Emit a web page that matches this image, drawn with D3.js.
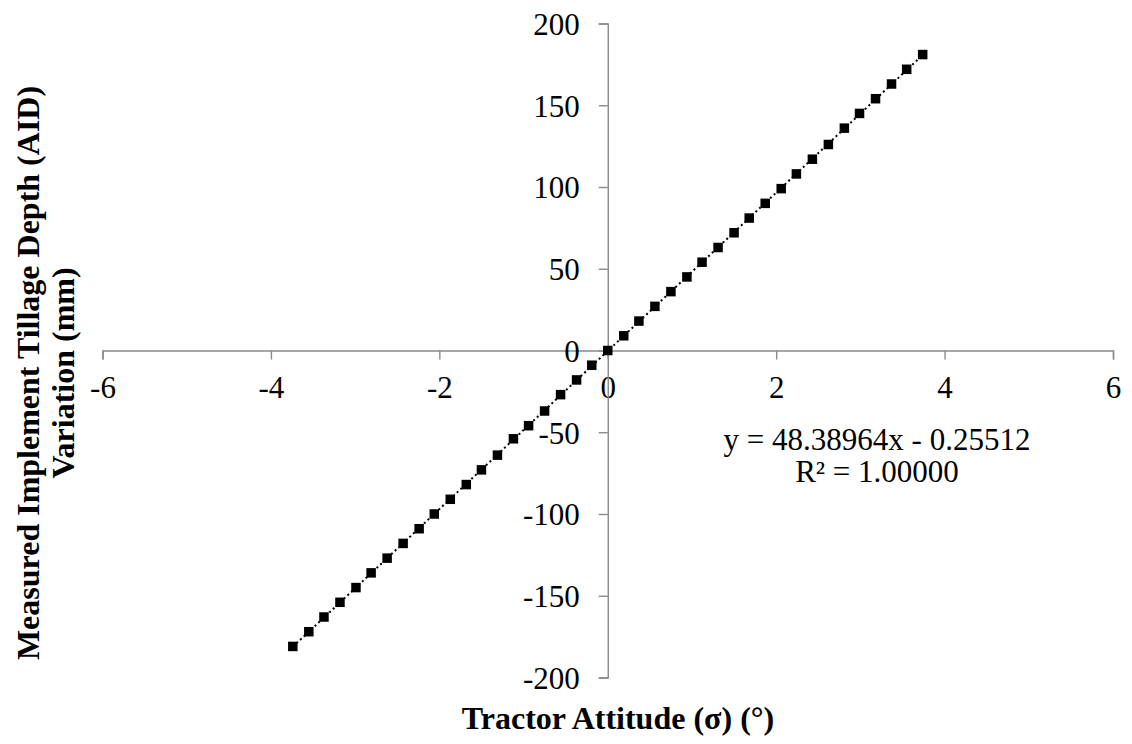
<!DOCTYPE html>
<html>
<head>
<meta charset="utf-8">
<script src="https://cdn.jsdelivr.net/npm/d3@7"></script>
<style>
  body { margin: 0; background: #fff; }
  svg { display: block; }
  text { font-family: "Liberation Serif", "Times New Roman", serif; fill: #000; }
</style>
</head>
<body>
<div id="chart"></div>
<script>
// Tractor attitude (deg) vs measured tillage depth variation (mm)
var attitude = [-3.74, -3.55, -3.37, -3.18, -2.99, -2.81, -2.62, -2.43, -2.24, -2.06,
    -1.87, -1.68, -1.50, -1.31, -1.12, -0.94, -0.75, -0.56, -0.37, -0.19, 0,
    0.19, 0.37, 0.56, 0.75, 0.94, 1.12, 1.31, 1.50, 1.68, 1.87,
    2.06, 2.24, 2.43, 2.62, 2.81, 2.99, 3.18, 3.37, 3.55, 3.74];
var depth = [-181, -172, -163, -154, -145, -136, -127, -118, -109, -100,
    -91, -82, -73, -64, -54, -46, -37, -27, -18, -9, 0,
    9, 18, 27, 36, 45, 54, 63, 72, 81, 90,
    99, 108, 117, 126, 136, 145, 154, 163, 172, 181];

var xTicks = [-6, -4, -2, 0, 2, 4, 6];
var yTicks = [-200, -150, -100, -50, 0, 50, 100, 150, 200];

var trendSlope = 48.38964, trendIntercept = -0.25512;
var equationLines = ["y = 48.38964x - 0.25512", "R\u00b2 = 1.00000"];

const width = 1132, height = 744;
const plot = { left: 102.5, right: 1113, top: 23.5, bottom: 677.5 };

var x = d3.scaleLinear().domain([-6, 6]).range([plot.left, plot.right]);
var y = d3.scaleLinear().domain([-200, 200]).range([plot.bottom, plot.top]);

var svg = d3.select("#chart").append("svg")
    .attr("width", width)
    .attr("height", height);

var axisColor = "#898989";
var fmt = function(d) { return String(d); };  // plain hyphen like Excel

// X axis through y = 0
var gx = svg.append("g")
    .attr("transform", "translate(0," + y(0) + ")")
    .call(d3.axisBottom(x).tickValues(xTicks).tickFormat(fmt).tickSize(9).tickSizeOuter(9));
gx.select(".domain").attr("stroke", axisColor).attr("stroke-width", 1.4);
gx.selectAll(".tick line").attr("stroke", axisColor).attr("stroke-width", 1.4);
gx.selectAll(".tick text")
    .attr("y", 37)
    .attr("dy", "0.35em")
    .style("font-size", "31px")
    .style("font-family", "Liberation Serif, serif");

// Y axis through x = 0
var gy = svg.append("g")
    .attr("transform", "translate(" + x(0) + ",0)")
    .call(d3.axisLeft(y).tickValues(yTicks).tickFormat(fmt).tickSize(9).tickSizeOuter(9));
gy.select(".domain").attr("stroke", axisColor).attr("stroke-width", 1.4);
gy.selectAll(".tick line").attr("stroke", axisColor).attr("stroke-width", 1.4);
gy.selectAll(".tick text")
    .attr("x", -28)
    .attr("dy", "0.35em")
    .style("font-size", "31px")
    .style("font-family", "Liberation Serif, serif");

// Linear trendline (dotted)
var tx = d3.extent(attitude);
svg.append("line")
    .attr("x1", x(tx[0]))
    .attr("y1", y(trendSlope * tx[0] + trendIntercept))
    .attr("x2", x(tx[1]))
    .attr("y2", y(trendSlope * tx[1] + trendIntercept))
    .attr("stroke", "#000")
    .attr("stroke-width", 2)
    .attr("stroke-dasharray", "2,3");

// Square markers
var m = 9.5;
svg.selectAll("rect.pt")
    .data(attitude)
    .enter().append("rect")
    .attr("class", "pt")
    .attr("x", function(d) { return x(d) - m / 2; })
    .attr("y", function(d, i) { return y(depth[i]) - m / 2; })
    .attr("width", m)
    .attr("height", m)
    .attr("fill", "#000");

// Trendline equation
svg.append("g").selectAll("text")
    .data(equationLines)
    .enter().append("text")
    .attr("x", 877)
    .attr("y", function(d, i) { return 450 + i * 32; })
    .attr("text-anchor", "middle")
    .style("font-size", "31px")
    .text(function(d) { return d; });

// X axis title
svg.append("text")
    .attr("x", 618)
    .attr("y", 729)
    .attr("text-anchor", "middle")
    .style("font-size", "32px")
    .style("font-weight", "bold")
    .text("Tractor Attitude (\u03c3) (\u00b0)");

// Y axis title, two lines
["Measured Implement Tillage Depth (AID)", "Variation (mm)"].forEach(function(t, i) {
    svg.append("text")
        .attr("transform", "translate(" + (39 + i * 35) + ",373) rotate(-90)")
        .attr("text-anchor", "middle")
        .style("font-size", "32px")
        .style("font-weight", "bold")
        .text(t);
});
</script>
</body>
</html>
